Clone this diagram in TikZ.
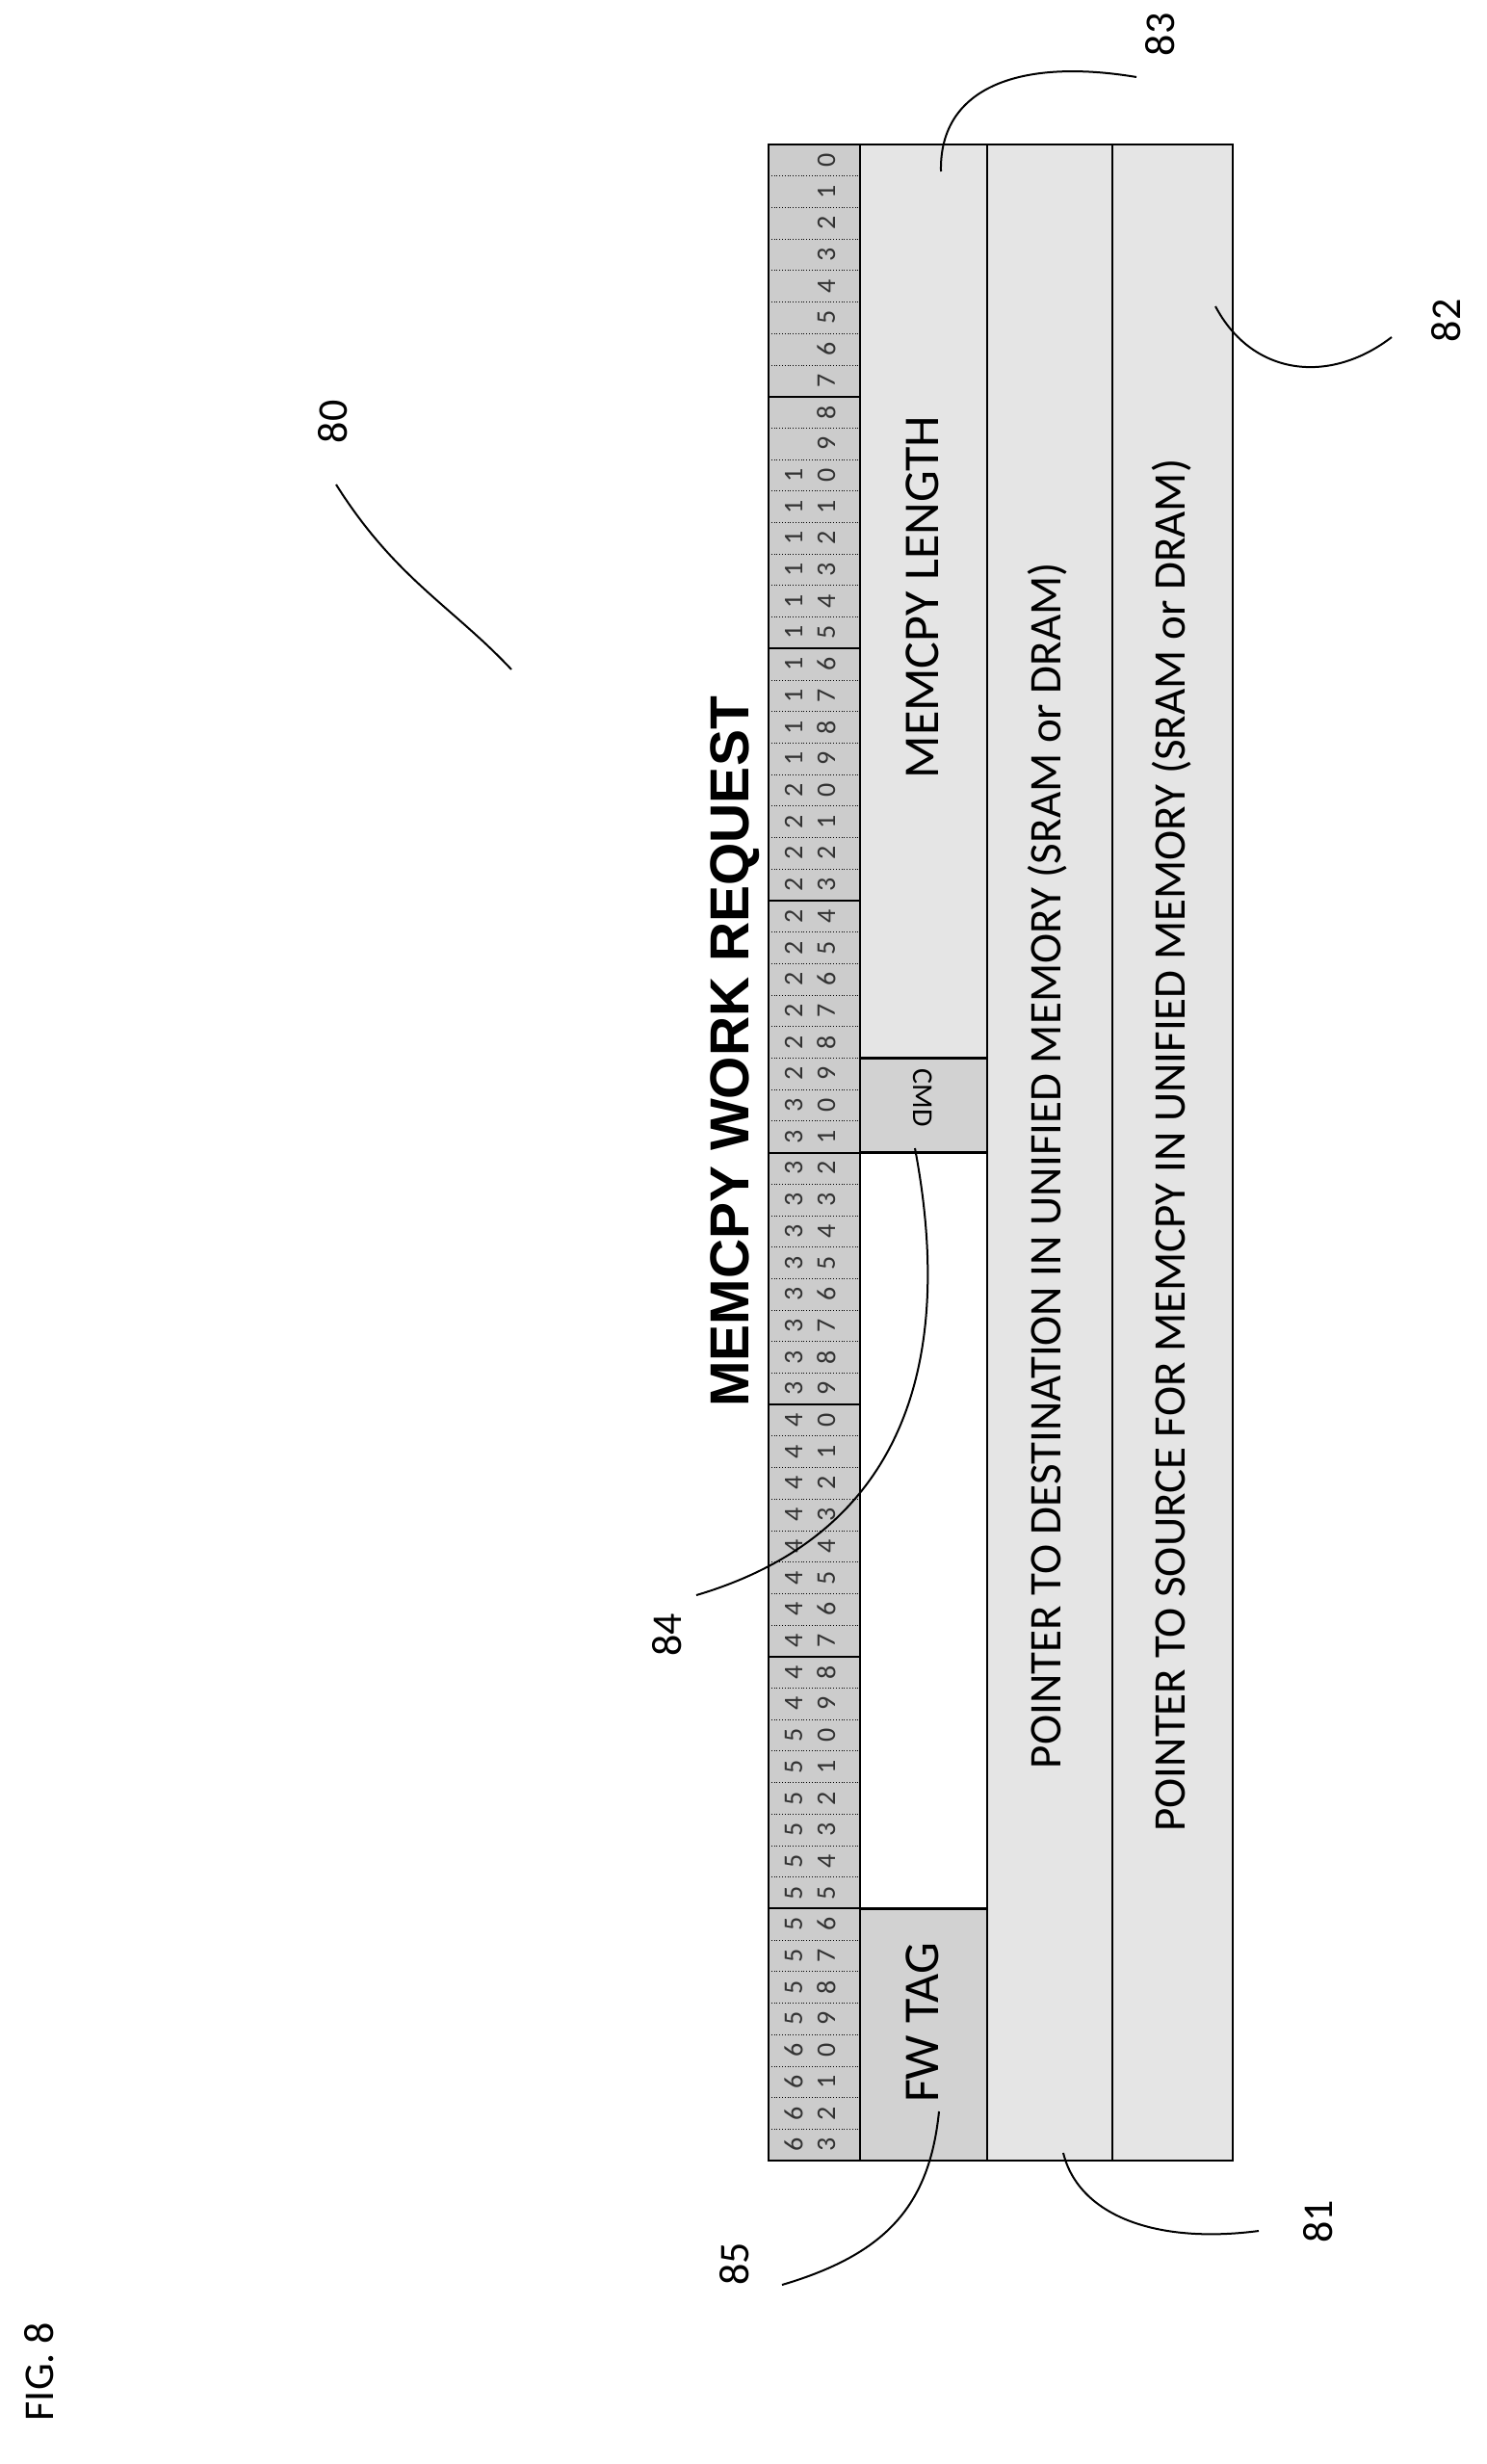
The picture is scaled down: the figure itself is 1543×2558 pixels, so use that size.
\documentclass[tikz,border=0pt]{standalone}
\usepackage{fontspec}
\setmainfont{Carlito}
\newfontfamily\titlefont{Liberation Sans}
\begin{document}
\begin{tikzpicture}[x=0.5pt,y=-0.5pt,
  lbl/.style={font=\fontsize{22}{24}\selectfont,rotate=90},
  ldr/.style={line width=1pt}]
\useasboundingbox (0,0) rectangle (1543,2558);
\def\bw{32.703}
% fills
\fill[gray!40] (798,150) rectangle (893,2243);
\fill[gray!20] (893,150) rectangle (1280,2243);
\fill[white] (893,{150+32*\bw}) rectangle (1025,{150+56*\bw});
\fill[gray!35] (893,{150+29*\bw}) rectangle (1025,{150+32*\bw});
\fill[gray!35] (893,{150+56*\bw}) rectangle (1025,2243);
% bit grid
\foreach \k in {1,...,63}{
  \pgfmathtruncatemacro{\m}{mod(\k,8)}
  \ifnum\m=0
    \draw[line width=1pt] (798,{150+\k*\bw}) -- (893,{150+\k*\bw});
  \else
    \draw[densely dotted,line width=0.4pt] (798,{150+\k*\bw}) -- (893,{150+\k*\bw});
  \fi}
\foreach \k in {0,...,63}{
  \pgfmathtruncatemacro{\t}{int(\k/10)}
  \pgfmathtruncatemacro{\u}{mod(\k,10)}
  \node[rotate=90,font=\fontsize{14}{15}\selectfont,text=black!80] (u\k) at (858,{150+(\k+0.5)*\bw}) {\u};
  \ifnum\k>9 \node[rotate=90,font=\fontsize{14}{15}\selectfont,text=black!80] (t\k) at (824,{150+(\k+0.5)*\bw}) {\t}; \fi
}
% box lines
\draw[line width=1.2pt] (798,150) rectangle (1280,2243);
\draw[line width=1.2pt] (893,150) -- (893,2243);
\draw[line width=1.2pt] (1025,150) -- (1025,{150+32*\bw});
\draw[line width=1.2pt] (1025,{150+56*\bw}) -- (1025,2243);
\draw[line width=1.2pt] (893,{150+29*\bw}) -- (1025,{150+29*\bw});
\draw[line width=1.2pt] (893,{150+32*\bw}) -- (1025,{150+32*\bw});
\draw[line width=1.2pt] (893,{150+56*\bw}) -- (1025,{150+56*\bw});
\draw[line width=1.2pt] (1025,{150+32*\bw}) -- (1025,{150+56*\bw});
\draw[line width=1.2pt] (1155,150) -- (1155,2243);
% texts
\node[rotate=90,font=\titlefont\bfseries\fontsize{28.5}{30}\selectfont] (title) at (763,1092) {MEMCPY WORK REQUEST};
\node[lbl,font=\fontsize{26}{28}\selectfont] (len) at (958,620) {MEMCPY LENGTH};
\node[rotate=-90,font=\fontsize{15}{16}\selectfont] (cmd) at (958,1140) {CMD};
\node[lbl,font=\fontsize{26}{28}\selectfont] (fw) at (958,2100) {FW TAG};
\node[lbl,font=\fontsize{23.5}{25}\selectfont] (dst) at (1088,1210) {POINTER TO DESTINATION IN UNIFIED MEMORY (SRAM or DRAM)};
\node[lbl,font=\fontsize{23.5}{25}\selectfont] (src) at (1217,1189) {POINTER TO SOURCE FOR MEMCPY IN UNIFIED MEMORY (SRAM or DRAM)};
% reference numbers
\node[lbl] (n80) at (346,438) {80};
\node[lbl] (n83) at (1205,36) {83};
\node[lbl] (n82) at (1502,333) {82};
\node[lbl] (n84) at (693,1697) {84};
\node[lbl] (n85) at (763,2350) {85};
\node[lbl] (n81) at (1369,2306) {81};
\node[lbl] (fig) at (41,2462) {FIG. 8};
\coordinate (e80) at (531,695);
\coordinate (e83) at (977,178);
\coordinate (e82) at (1262,318);
\coordinate (e84) at (950,1192);
\coordinate (e85) at (975,2192);
\coordinate (e81) at (1104,2235);
\draw[ldr] (349,503) .. controls (410,600) and (470,630) .. (e80);
\draw[ldr] (1180,80) .. controls (1060,60) and (975,90) .. (e83);
\draw[ldr] (1445,350) .. controls (1380,400) and (1300,390) .. (e82);
\draw[ldr] (723,1656) .. controls (980,1580) and (980,1350) .. (e84);
\draw[ldr] (812,2372) .. controls (920,2340) and (965,2290) .. (e85);
\draw[ldr] (1307,2316) .. controls (1200,2330) and (1120,2300) .. (e81);
\end{tikzpicture}
\end{document}
